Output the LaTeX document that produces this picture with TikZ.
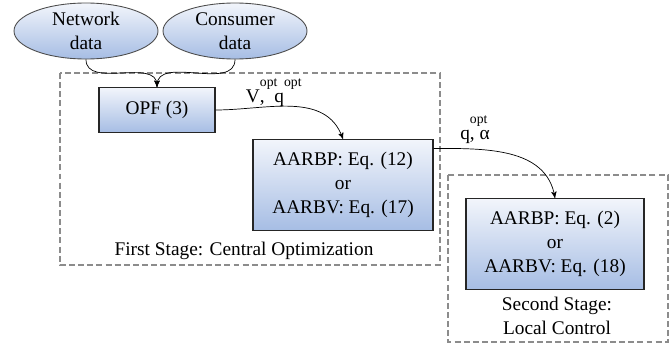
\documentclass[tikz,border=0pt]{standalone}
\usepackage{fontspec}
\setmainfont{Liberation Serif}
\newfontfamily\diagfont{Liberation Serif}
\usepackage{tikz}
\usetikzlibrary{positioning, arrows, shapes}

\definecolor{boxtop}{RGB}{242,245,251}
\definecolor{boxbot}{RGB}{166,189,228}

\tikzset{
  block/.style={draw=black!85, line width=0.6pt, rectangle, align=center,
    top color=boxtop, bottom color=boxbot, inner sep=2pt},
  inputdata/.style={draw=black!70, line width=0.5pt, ellipse, align=center,
    top color=boxtop, bottom color=boxbot,
    minimum width=2.88cm, minimum height=1.12cm, inner sep=0pt},
  stagebox/.style={draw=black!45, line width=0.6pt, dash pattern=on 3.4pt off 1.8pt},
  flow/.style={-stealth', line width=0.4pt, black}
}
% small raised superscript that takes no width
\newcommand{\supopt}{\rlap{\raisebox{9pt}{\fontsize{7.8}{8}\selectfont opt}}}

\begin{document}
\begin{tikzpicture}[font=\diagfont\fontsize{11}{13.5}\selectfont]
\useasboundingbox (0,0) rectangle (13.42,-6.9);
% dashed stage frames
\path[draw][stagebox] (1.2,-1.46) rectangle (8.8,-5.3);
\path[draw][stagebox] (8.96,-3.5) rectangle (13.36,-6.84);
% inputs
\path (1.72,-0.62) node[inputdata] (net) {Network\\data};
\path (4.70,-0.62) node[inputdata] (cons) {Consumer\\data};
% first stage
\path (3.14,-2.2) node[block, minimum width=2.32cm, minimum height=0.9cm] (opf) {OPF (3)};
\path (6.86,-3.70) node[block, minimum width=3.6cm, minimum height=1.82cm] (central)
  {AARBP: Eq. (12)\\or\\AARBV: Eq. (17)};
\path (4.88,-5.02) node (stageone) {First Stage: Central Optimization};
% second stage
\path (11.10,-4.88) node[block, minimum width=3.56cm, minimum height=1.82cm] (local)
  {AARBP: Eq. (2)\\or\\AARBV: Eq. (18)};
\path (11.14,-6.32) node[align=center] (stagetwo) {Second Stage:\\Local Control};
% exchanged quantities
\path (5.3,-1.86) node (vq) {V\supopt,\hspace{0.5em}q\supopt\hspace{1.7em}};
\path (9.5,-2.6) node (qa) {q\supopt, α};
% connectors
\path[draw][flow] (net.south) to[out=-90, in=90] (opf.north);
\path[draw][flow] (cons.south) to[out=-90, in=90] (opf.north);
\path[draw][flow] (opf.east) to[out=0, in=110] (central.north);
\path[draw][flow] (central.22) to[out=0, in=100] (local.north);
\end{tikzpicture}
\end{document}
